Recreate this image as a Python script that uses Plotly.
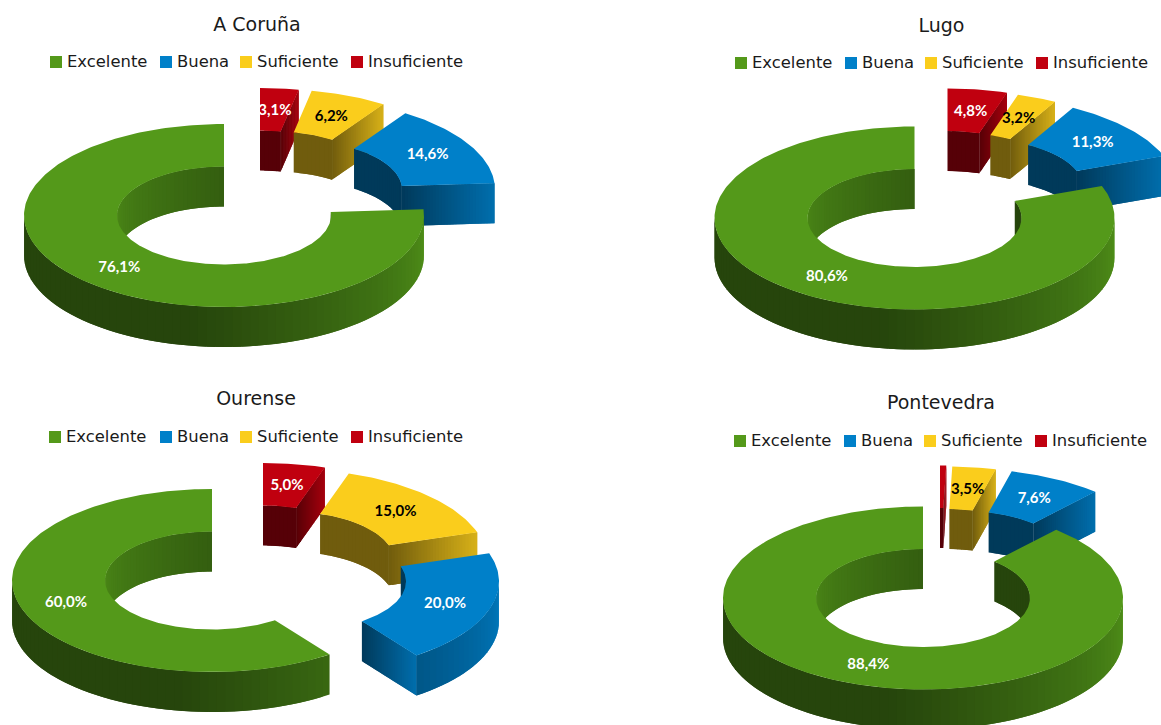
import math
import plotly.graph_objects as go

# Data
categories = ["Excelente", "Buena", "Suficiente", "Insuficiente"]
coruna = [76.1, 14.6, 6.2, 3.1]
lugo = [80.6, 11.3, 3.2, 4.8]
ourense = [60.0, 20.0, 15.0, 5.0]
pontevedra = [88.4, 7.6, 3.5, 0.5]
titles = ["A Coruña", "Lugo", "Ourense", "Pontevedra"]
series = [coruna, lugo, ourense, pontevedra]

colors = [(84, 153, 26), (0, 128, 201), (250, 205, 28), (192, 0, 15)]
label_colors = ["white", "white", "black", "white"]

# Layout of each donut: centre, title, legend and how far each slice is pulled out
centers = [(224, 215.5), (914.5, 218), (212, 580.5), (923, 598)]
title_pos = [(257, 26), (941.5, 27), (256, 400), (941, 404)]
legend_x = [
    [56, 166, 246, 357],
    [741, 851, 931, 1042],
    [55, 166, 246, 357],
    [740, 850, 930, 1041],
]
legend_y = [62, 63, 437, 441]
pull = [
    [(0, 0), (71, -26), (49, -35), (36, -36)],
    [(0, 0), (62, -30), (44, -36), (33, -38)],
    [(0, 0), (87, 1), (75, -20), (51, -26)],
    [(0, 0), (39, -38), (23, -40), (17, -41)],
]
RX, RY = 200, 91.5
IRX, IRY = 107, 49
DEPTH = 40
STEP = 2.5
DARK = 0.45

fig = go.Figure()


def shade(color, t):
    # t=0 is the shadow colour, t=1 the full slice colour
    k = DARK + (1 - DARK) * t
    return "rgb(%d,%d,%d)" % tuple(round(c * k) for c in color)


def pt(c, off, rx, ry, theta, drop=0):
    a = math.radians(theta)
    return (c[0] + off[0] + rx * math.sin(a), c[1] + off[1] - ry * math.cos(a) + drop)


def poly(points, color):
    xs = [p[0] for p in points] + [points[0][0]]
    ys = [p[1] for p in points] + [points[0][1]]
    fig.add_trace(go.Scatter(
        x=xs, y=ys, mode="lines", fill="toself", fillcolor=color,
        line=dict(width=0), hoverinfo="skip", showlegend=False,
    ))


def angles(a, b, step):
    n = max(1, math.ceil((b - a) / step))
    return [a + (b - a) * i / n for i in range(n + 1)]


def wall(c, off, rx, ry, a, b, color, tone):
    if b <= a:
        return
    th = angles(a, b, STEP)
    for t0, t1 in zip(th[:-1], th[1:]):
        # each strip runs on under the next one so no seams show
        t2 = min(b, t1 + STEP)
        poly([pt(c, off, rx, ry, t0), pt(c, off, rx, ry, (t0 + t1) / 2), pt(c, off, rx, ry, t1),
              pt(c, off, rx, ry, t2), pt(c, off, rx, ry, t2, DEPTH), pt(c, off, rx, ry, t1, DEPTH),
              pt(c, off, rx, ry, (t0 + t1) / 2, DEPTH), pt(c, off, rx, ry, t0, DEPTH)],
             shade(color, tone((t0 + t1) / 2)))


def outer_tone(th):
    return max(0, min(0.9, 0.9 * (190 - th) / 100))


def inner_tone(th):
    if th >= 270:
        return 0.8 - 0.5 * (th - 270) / 90
    return 0


def cut_face(c, off, theta, color):
    n = 30
    for i in range(n):
        f0, f1 = i / n, min(1, (i + 2) / n)
        p = [(IRX + (RX - IRX) * f, IRY + (RY - IRY) * f) for f in (f0, f1)]
        poly([pt(c, off, p[0][0], p[0][1], theta), pt(c, off, p[1][0], p[1][1], theta),
              pt(c, off, p[1][0], p[1][1], theta, DEPTH), pt(c, off, p[0][0], p[0][1], theta, DEPTH)],
             shade(color, 0.75 * (i + 0.5) / n))


def draw_slice(c, off, a, b, color):
    # inner wall, cut faces, outer wall, then the top face over them
    wall(c, off, IRX, IRY, a, min(b, 90), color, inner_tone)
    wall(c, off, IRX, IRY, max(a, 270), b, color, inner_tone)
    if 0 < b < 180:
        cut_face(c, off, b, color)
    if 180 < a < 360:
        cut_face(c, off, a, color)
    wall(c, off, RX, RY, max(a, 90), min(b, 270), color, outer_tone)
    th = angles(a, b, 1)
    top = [pt(c, off, RX, RY, t) for t in th] + [pt(c, off, IRX, IRY, t) for t in reversed(th)]
    poly(top, shade(color, 1))


for i, values in enumerate(series):
    total = sum(values)
    # clockwise from 12 o'clock: Insuficiente, Suficiente, Buena, Excelente
    spans = {}
    start = 0
    for j in range(len(values) - 1, -1, -1):
        sweep = 360 * values[j] / total
        spans[j] = (start, start + sweep)
        start += sweep
    for j in range(len(values) - 1, -1, -1):
        draw_slice(centers[i], pull[i][j], spans[j][0], spans[j][1], colors[j])
    # value labels in the middle of each top face
    for j, v in enumerate(values):
        if v < 1:
            continue
        mid = sum(spans[j]) / 2
        x, y = pt(centers[i], pull[i][j], (RX + IRX) / 2, (RY + IRY) / 2, mid, 1.5)
        fig.add_trace(go.Scatter(
            x=[x], y=[y], mode="text", text=[f"{v:.1f}%".replace(".", ",")],
            textposition="middle center", hoverinfo="skip", showlegend=False,
            textfont=dict(family="Lato", size=15, color=label_colors[j], weight="bold"),
        ))
    # title
    fig.add_trace(go.Scatter(
        x=[title_pos[i][0]], y=[title_pos[i][1]], mode="text", text=[titles[i]],
        textposition="middle center", hoverinfo="skip", showlegend=False,
        textfont=dict(family="DejaVu Sans", size=19, color="#1a1a1a"),
    ))
    # legend row
    fig.add_trace(go.Scatter(
        x=legend_x[i], y=[legend_y[i]] * 4, mode="markers", hoverinfo="skip", showlegend=False,
        marker=dict(symbol="square", size=12, color=[shade(c, 1) for c in colors]),
    ))
    fig.add_trace(go.Scatter(
        x=[x0 + 11 for x0 in legend_x[i]], y=[legend_y[i] + 1] * 4, mode="text", text=categories,
        textposition="middle right", hoverinfo="skip", showlegend=False,
        textfont=dict(family="DejaVu Sans", size=16.4, color="#1a1a1a"),
    ))

fig.update_layout(
    width=1161, height=725,
    margin=dict(l=0, r=0, t=0, b=0),
    paper_bgcolor="white", plot_bgcolor="white",
    showlegend=False,
    xaxis=dict(range=[0, 1161], visible=False, fixedrange=True),
    yaxis=dict(range=[725, 0], visible=False, fixedrange=True),
)

fig.write_html("out.html", config=dict(displayModeBar=False),
               post_script="document.body.style.margin='0';document.body.style.overflow='hidden';")
